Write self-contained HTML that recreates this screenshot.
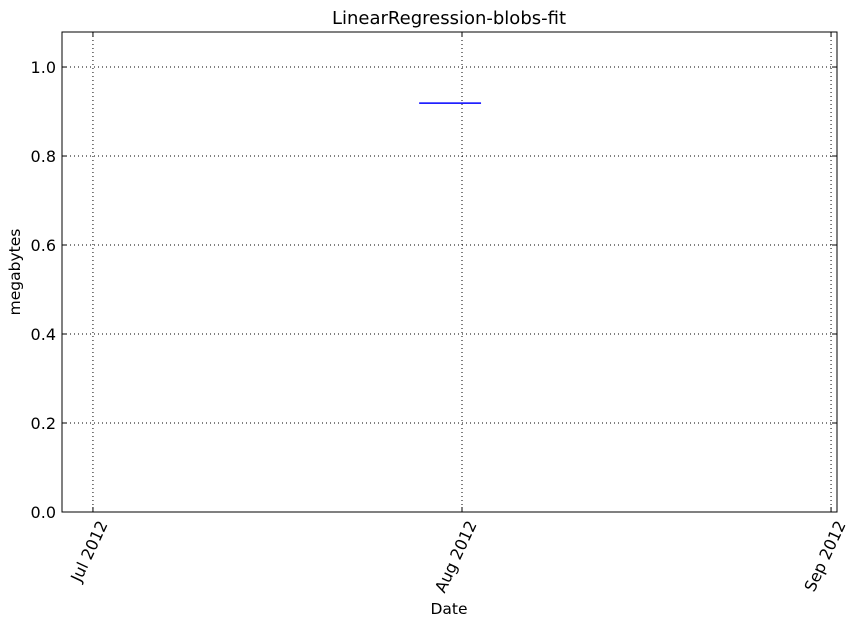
<!DOCTYPE html>
<html><head><meta charset="utf-8"><style>
body{margin:0;background:#fff;font-family:"DejaVu Sans","Liberation Sans",sans-serif;}
svg text{font-family:"DejaVu Sans","Liberation Sans",sans-serif;}
</style></head><body>
<svg id="chart" width="863" height="624" xmlns="http://www.w3.org/2000/svg">
<rect width="863" height="624" fill="#fff"/>
<text x="449" y="24" font-size="18" text-anchor="middle">LinearRegression-blobs-fit</text>
<text x="20" y="272" font-size="15.5" text-anchor="middle" transform="rotate(-90 20 272)">megabytes</text>
<text x="449" y="614" font-size="15.5" text-anchor="middle">Date</text>
<g id="grid"></g><g id="ticks"></g><g id="series"></g>
<rect x="62" y="32" width="775" height="480" fill="none" stroke="#000" stroke-width="1"/>
</svg>
<script>
const xTickDays=[0,31,62];
const xTickLabels=["Jul 2012","Aug 2012","Sep 2012"];
const yTicks=[0,0.2,0.4,0.6,0.8,1.0];
const yTickLabels=["0.0","0.2","0.4","0.6","0.8","1.0"];
const seriesDays=[27.4,32.6];
const seriesValues=[0.919,0.919];

const L=62,R=837,T=32,B=512;
const xMin=-2.6,xMax=62.5,yMin=0,yMax=1.0787;
const sx=d=>L+(d-xMin)/(xMax-xMin)*(R-L);
const sy=v=>B-(v-yMin)/(yMax-yMin)*(B-T);
const NS="http://www.w3.org/2000/svg";
function mk(tag,attrs,parent){const e=document.createElementNS(NS,tag);for(const k in attrs)e.setAttribute(k,attrs[k]);parent.appendChild(e);return e;}
const grid=document.getElementById('grid'),ticks=document.getElementById('ticks'),series=document.getElementById('series');
yTicks.forEach((v,i)=>{
  const y=sy(v);
  const g=mk('line',{x1:L,x2:R,y1:y,y2:y,stroke:'#000','stroke-dasharray':'1,3','stroke-width':1},grid);
  
  
  mk('line',{x1:L,x2:L+5,y1:y,y2:y,stroke:'#000'},ticks);
  mk('line',{x1:R,x2:R-5,y1:y,y2:y,stroke:'#000'},ticks);
  const t=mk('text',{x:L-6,y:y+6,'font-size':16,'text-anchor':'end'},ticks);
  t.textContent=yTickLabels[i];
  
  
});
xTickDays.forEach((d,i)=>{
  const x=sx(d);
  const g=mk('line',{x1:x,x2:x,y1:T,y2:B,stroke:'#000','stroke-dasharray':'1,3','stroke-width':1},grid);
  
  
  mk('line',{x1:x,x2:x,y1:B,y2:B-5,stroke:'#000'},ticks);
  mk('line',{x1:x,x2:x,y1:T,y2:T+5,stroke:'#000'},ticks);
  const t=mk('text',{x:x+15,y:B+12,'font-size':16,'text-anchor':'end',transform:`rotate(-65 ${x+15} ${B+12})`},ticks);
  t.textContent=xTickLabels[i];
  
  
});
const pts=seriesDays.map((d,i)=>sx(d)+','+sy(seriesValues[i])).join(' ');
const pl=mk('polyline',{points:pts,fill:'none',stroke:'#0000ff','stroke-width':1.5},series);


</script>
</body></html>
